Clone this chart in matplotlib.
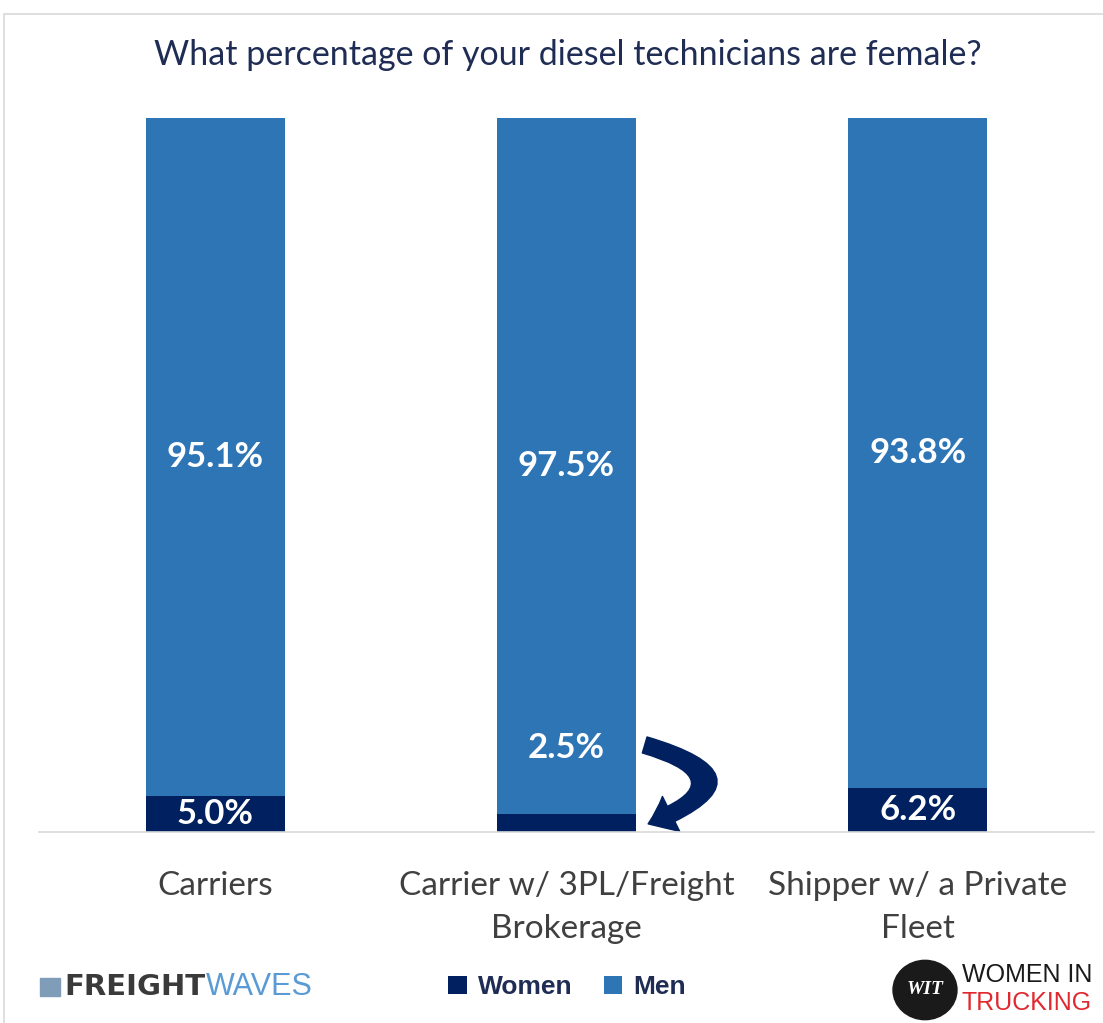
import matplotlib.pyplot as plt
from matplotlib.patches import FancyArrowPatch, Circle, Rectangle

categories = ['Carriers', 'Carrier w/ 3PL/Freight\nBrokerage', 'Shipper w/ a Private\nFleet']
women = [5.0, 2.5, 6.2]
men = [95.1, 97.5, 93.8]

men_color = '#2E75B6'
women_color = '#002060'

fig = plt.figure(figsize=(11.03, 10.23), dpi=100)
ax = fig.add_axes([0.0358, 0.1867, 0.9556, 0.698])

x = range(len(categories))
b_w = ax.bar(x, women, width=0.396, color=women_color, label='Women')
b_m = ax.bar(x, men, width=0.396, bottom=women, color=men_color, label='Men')

lbl = dict(ha='center', va='center', color='white', fontsize=25, fontweight='bold', family='Lato')
for i in x:
    ax.text(i, women[i] + men[i] / 2, f'{men[i]:.1f}%', **lbl)
    if women[i] >= 4:
        ax.text(i, women[i] / 2, f'{women[i]:.1f}%', **lbl)

# small women share in the middle bar: label above, arrow pointing down
ax.text(1, 11.8, f'{women[1]:.1f}%', **lbl)
arrow = FancyArrowPatch((1.215, 12.3), (1.225, 1.0),
                        connectionstyle='arc3,rad=-1.5',
                        arrowstyle='simple,head_length=0.9,head_width=1.4,tail_width=0.6',
                        mutation_scale=20, color=women_color, clip_on=False)
ax.add_patch(arrow)

ax.set_xlim(-0.5, 2.5)
ax.set_ylim(0, 100)
ax.set_yticks([])
ax.set_xticks(list(x))
ax.set_xticklabels(categories, fontsize=24, color='#404040', family='Lato', linespacing=1.55)
ax.tick_params(axis='x', length=0, pad=28)
for s in ['top', 'right', 'left']:
    ax.spines[s].set_visible(False)
ax.spines['bottom'].set_color('#D9D9D9')
ax.spines['bottom'].set_linewidth(1.2)

fig.text(0.515, 0.946, 'What percentage of your diesel technicians are female?',
         ha='center', va='center', fontsize=24.5, color='#1F2D55', family='Lato')

leg = fig.legend(handles=[b_w, b_m], loc='center', bbox_to_anchor=(0.514, 0.035), ncol=2,
                 frameon=False, handlelength=0.7, handleheight=0.7, handletextpad=0.4,
                 columnspacing=1.2, prop={'family': 'Liberation Sans', 'weight': 'bold', 'size': 19})
for t in leg.get_texts():
    t.set_color('#1F2D55')

# frame
fig.patches.append(Rectangle((4 / 1103, -0.1), 1.2, 1 - 14 / 1023 + 0.1, transform=fig.transFigure,
                             fill=False, edgecolor='#D9D9D9', linewidth=1.2))

# FreightWaves logo
fig.patches.append(Rectangle((40 / 1103, 1 - 996 / 1023), 20 / 1103, 18 / 1023,
                             transform=fig.transFigure, color='#7F9DB9'))
fw = fig.text(64 / 1103, 0.035, 'FREIGHT', ha='left', va='center', fontsize=21,
              fontweight='bold', color='#3A3A3A', family='DejaVu Sans')
fig.canvas.draw()
ext = fw.get_window_extent()
fig.text(ext.x1 / fig.bbox.width + 0.001, 0.035, 'WAVES', ha='left', va='center', fontsize=22,
         color='#5B9BD5', family='Liberation Sans')

# Women In Trucking logo
fig.patches.append(Circle((925 / 1103, 1 - 990 / 1023), 0.029, transform=fig.transFigure,
                          color='#1A1A1A'))
fig.text(925 / 1103, 1 - 990 / 1023, 'WIT', ha='center', va='center', fontsize=14,
         color='white', style='italic', fontweight='bold', family='Liberation Serif')
fig.text(962 / 1103, 1 - 975 / 1023, 'WOMEN IN', ha='left', va='center', fontsize=18,
         color='#1A1A1A', family='Liberation Sans')
fig.text(962 / 1103, 1 - 1003 / 1023, 'TRUCKING', ha='left', va='center', fontsize=18,
         color='#E0282E', family='Liberation Sans')

fig.savefig('out.png', dpi=100)
